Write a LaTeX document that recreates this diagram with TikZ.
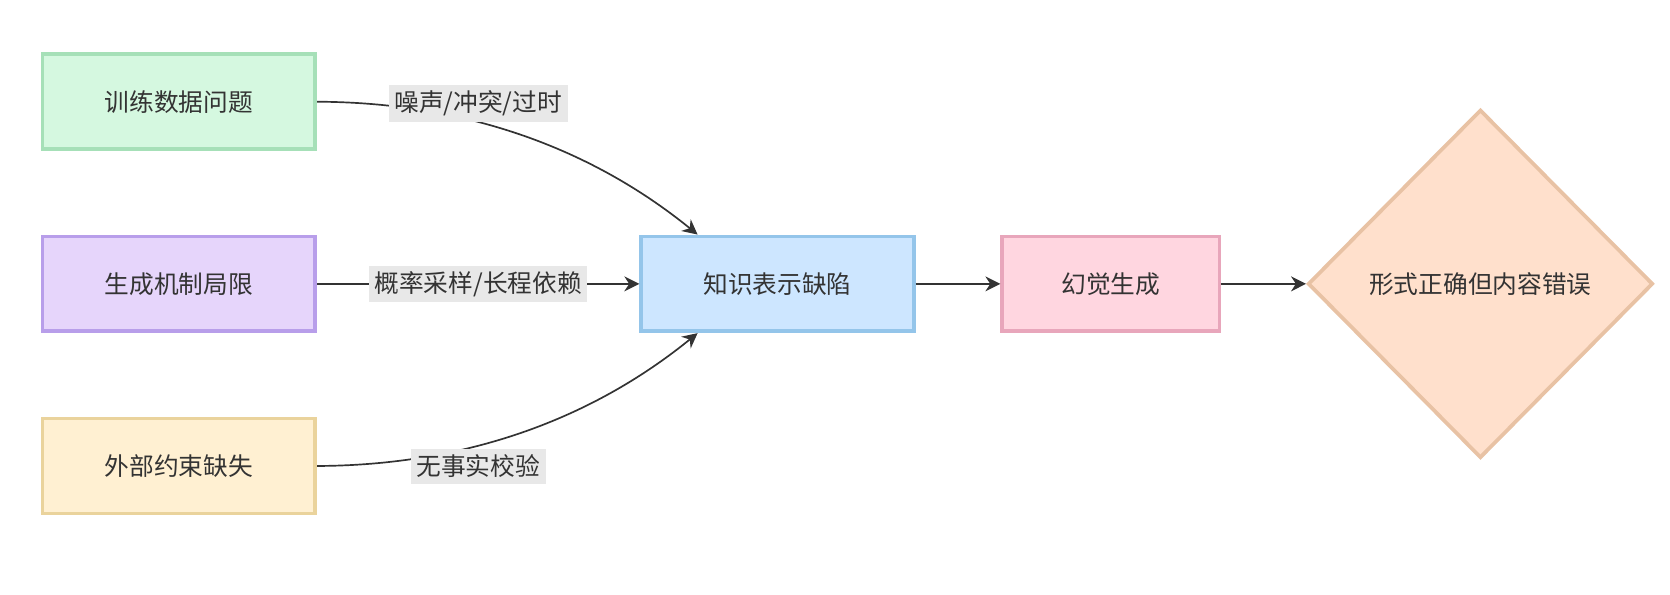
\documentclass[tikz,border=0pt]{standalone}
\usepackage{fontspec}
\setmainfont{Noto Sans CJK SC}
\usetikzlibrary{arrows.meta, positioning, shapes.geometric, calc}
\definecolor{TXT}{HTML}{333333}
\definecolor{LBLBG}{HTML}{E8E8E8}
\definecolor{GRfill}{HTML}{D5F8E0}\definecolor{GRdraw}{HTML}{A6E0B8}
\definecolor{PUfill}{HTML}{E6D5FB}\definecolor{PUdraw}{HTML}{B89EEA}
\definecolor{YEfill}{HTML}{FFF0D2}\definecolor{YEdraw}{HTML}{EAD39C}
\definecolor{BLfill}{HTML}{CDE6FF}\definecolor{BLdraw}{HTML}{94C5EA}
\definecolor{PKfill}{HTML}{FFD6E0}\definecolor{PKdraw}{HTML}{E8A6BB}
\definecolor{PEfill}{HTML}{FFE0CC}\definecolor{PEdraw}{HTML}{E8C2A4}

\begin{document}
\begin{tikzpicture}[
        box/.style={draw, line width=1pt, minimum width=2.56cm, minimum height=0.89cm,
                    inner sep=0pt, text=TXT, font=\fontsize{6.6}{8}\selectfont},
        lbl/.style={fill=LBLBG, text=TXT, inner sep=1.5pt, font=\fontsize{6.6}{8}\selectfont},
        arr/.style={-{Stealth[length=4pt, width=4pt]}, line width=0.45pt, color=TXT}
      ]
        \useasboundingbox (0,0) rectangle (15.68,-5.578);
        \node[box, fill=GRfill, draw=GRdraw] (data) at (1.68,-0.955) {训练数据问题};
        \node[box, fill=PUfill, draw=PUdraw] (gen)  at (1.68,-2.665) {生成机制局限};
        \node[box, fill=YEfill, draw=YEdraw] (ext)  at (1.68,-4.375) {外部约束缺失};
        \node[box, fill=BLfill, draw=BLdraw] (know) at (7.30,-2.665) {知识表示缺陷};
        \node[box, fill=PKfill, draw=PKdraw, minimum width=2.04cm] (hall) at (10.43,-2.665) {幻觉生成};
        \node[diamond, draw=PEdraw, fill=PEfill, line width=1pt, minimum width=3.24cm,
              minimum height=3.27cm, inner sep=0pt, text=TXT,
              font=\fontsize{6.6}{8}\selectfont] (wrong) at (13.90,-2.665) {形式正确但内容错误};
        \coordinate (kin1) at ($(know.north)+(-0.75,0)$);
        \coordinate (kin3) at ($(know.south)+(-0.75,0)$);
        \draw[arr] (data.east) .. controls (4.3,-0.96) and (5.5,-1.35) .. (kin1);
        \draw[arr] (gen) -- (know);
        \draw[arr] (ext.east) .. controls (4.3,-4.37) and (5.5,-3.98) .. (kin3);
        \draw[arr] (know) -- (hall);
        \draw[arr] (hall) -- (wrong);
        \node[lbl] (l1) at (4.49,-0.97) {噪声/冲突/过时};
        \node[lbl] (l2) at (4.49,-2.665) {概率采样/长程依赖};
        \node[lbl] (l3) at (4.49,-4.38) {无事实校验};
      \end{tikzpicture}
\end{document}
